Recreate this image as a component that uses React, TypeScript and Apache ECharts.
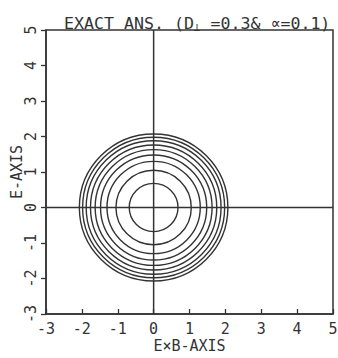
import React, { useEffect, useRef } from "react";
import * as echarts from "echarts";

// ---- data ----
const ringRadii = [0.68, 1.05, 1.3, 1.48, 1.63, 1.76, 1.88, 1.98, 2.07];
const ringCenter = [0, 0];
const xMin = -3;
const xMax = 5;
const yMin = -3;
const yMax = 5;
const titleLeft = "EXACT ANS. (D";
const titleSub = "⊥";
const titleRight = " =0.3& ∝=0.1)";
const xName = "E×B-AXIS";
const yName = "E-AXIS";
const zeroVLine = [[0, yMin], [0, yMax]];
const zeroHLine = [[xMin, 0], [xMax, 0]];

const INK = "#333";
const FONT = "'DejaVu Sans Mono', 'Liberation Mono', monospace";

export default function App() {
  const ref = useRef<HTMLDivElement>(null);
  useEffect(() => {
    document.body.style.margin = "0";
    const chart = echarts.init(ref.current!, null, { renderer: "svg" });
    chart.setOption({
      animation: false,
      backgroundColor: "#fff",
      title: {
        text: `{a|${titleLeft}}{s|${titleSub}}{a|${titleRight}}`,
        left: 59,
        top: 9,
        textStyle: {
          fontWeight: "normal",
          rich: {
            a: { fontFamily: FONT, fontSize: 16.6, color: INK, fontWeight: "normal" },
            s: { fontFamily: FONT, fontSize: 11, color: INK, fontWeight: "normal", verticalAlign: "bottom", padding: [8, 0, 0, 0] },
          },
        },
      },
      grid: {
        left: 46,
        right: 5,
        top: 30,
        bottom: 44,
        outerBoundsMode: "none",
        containLabel: false,
        show: true,
        borderColor: INK,
        borderWidth: 1.5,
        backgroundColor: "transparent",
      },
      xAxis: {
        type: "value",
        min: xMin,
        max: xMax,
        interval: 1,
        name: xName,
        nameLocation: "middle",
        nameGap: 24,
        nameMoveOverlap: false,
        nameTextStyle: { fontFamily: FONT, fontSize: 15, color: INK },
        axisLine: { onZero: false, lineStyle: { color: INK, width: 1.5 } },
        axisTick: { inside: true, length: 5, lineStyle: { color: INK, width: 1.3 } },
        axisLabel: { fontFamily: FONT, fontSize: 15, color: INK, margin: 7 },
        splitLine: { show: false },
      },
      yAxis: {
        type: "value",
        min: yMin,
        max: yMax,
        interval: 1,
        name: yName,
        nameLocation: "middle",
        nameGap: 22,
        nameMoveOverlap: false,
        nameRotate: 90,
        nameTextStyle: { fontFamily: FONT, fontSize: 15, color: INK },
        axisLine: { onZero: false, lineStyle: { color: INK, width: 1.5 } },
        axisTick: { inside: false, length: 5, lineStyle: { color: INK, width: 1.3 } },
        axisLabel: { fontFamily: FONT, fontSize: 15, color: INK, rotate: 90, margin: 8 },
        splitLine: { show: false },
      },
      series: [
        {
          type: "line",
          data: zeroVLine,
          symbol: "none",
          lineStyle: { color: INK, width: 1.5 },
          silent: true,
        },
        {
          type: "line",
          data: zeroHLine,
          symbol: "none",
          lineStyle: { color: INK, width: 1.5 },
          silent: true,
        },
        {
          type: "custom",
          data: ringRadii.map((r) => [ringCenter[0], ringCenter[1], r]),
          encode: { x: 0, y: 1 },
          renderItem: (_params: any, api: any) => {
            const r = api.value(2);
            const c = api.coord([api.value(0), api.value(1)]);
            const s = api.size([r, r]);
            return {
              type: "ellipse",
              shape: { cx: c[0], cy: c[1], rx: s[0], ry: s[1] },
              style: { fill: "none", stroke: INK, lineWidth: 1.4 },
            };
          },
          silent: true,
        },
      ],
    });
    return () => chart.dispose();
  }, []);
  return <div ref={ref} style={{ width: 338, height: 358 }} />;
}
